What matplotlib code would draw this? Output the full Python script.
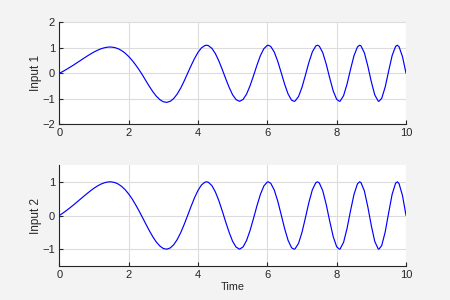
import matplotlib
matplotlib.use("Agg")
import matplotlib.pyplot as plt

# ------------------------------------
# DATA
# ------------------------------------
time = [
    0.0, 0.1, 0.2, 0.3, 0.4, 0.5, 0.6, 0.7, 0.8, 0.9,
    1.0, 1.1, 1.2, 1.3, 1.4, 1.46, 1.5, 1.6, 1.7, 1.8, 1.9,
    2.0, 2.1, 2.2, 2.3, 2.4, 2.5, 2.6, 2.7, 2.8, 2.9,
    3.0, 3.1, 3.2, 3.3, 3.4, 3.5, 3.6, 3.7, 3.8, 3.9,
    4.0, 4.1, 4.2, 4.25, 4.3, 4.4, 4.5, 4.6, 4.7, 4.8, 4.9,
    5.0, 5.1, 5.2, 5.3, 5.4, 5.5, 5.6, 5.7, 5.8, 5.9,
    6.0, 6.03, 6.1, 6.2, 6.3, 6.4, 6.5, 6.6, 6.7, 6.77, 6.8, 6.9,
    7.0, 7.1, 7.2, 7.3, 7.4, 7.45, 7.5, 7.6, 7.7, 7.8, 7.9,
    8.0, 8.08, 8.1, 8.2, 8.3, 8.4, 8.5, 8.6, 8.66, 8.7, 8.8, 8.9,
    9.0, 9.1, 9.2, 9.22, 9.3, 9.4, 9.5, 9.6, 9.7, 9.75, 9.8, 9.9,
    10.0,
]

input_1 = [
    0.0, 0.071, 0.148, 0.230, 0.315, 0.404, 0.493, 0.584, 0.672, 0.756,
    0.834, 0.903, 0.960, 1.001, 1.026, 1.030, 1.029, 1.008, 0.962, 0.889, 0.788,
    0.660, 0.508, 0.332, 0.140, -0.070, -0.298, -0.520, -0.725, -0.901, -1.033,
    -1.117, -1.140, -1.098, -0.990, -0.815, -0.585, -0.308, -0.003, 0.296, 0.579,
    0.820, 0.997, 1.089, 1.100, 1.086, 0.979, 0.776, 0.491, 0.150, -0.213, -0.556,
    -0.846, -1.034, -1.100, -1.027, -0.820, -0.497, -0.102, 0.314, 0.689, 0.965,
    1.095, 1.100, 1.051, 0.834, 0.474, 0.026, -0.430, -0.815, -1.054, -1.100, -1.089, -0.912,
    -0.550, -0.070, 0.430, 0.843, 1.074, 1.100, 1.063, 0.806, 0.355, -0.186, -0.688,
    -1.020, -1.100, -1.091, -0.876, -0.421, 0.153, 0.690, 1.034, 1.100, 1.078, 0.802, 0.278,
    -0.334, -0.850, -1.093, -1.100, -0.981, -0.539, 0.089, 0.692, 1.056, 1.100, 1.042, 0.648,
    0.009,
]

input_2 = [
    0.0, 0.069, 0.144, 0.223, 0.306, 0.392, 0.479, 0.567, 0.652, 0.734,
    0.810, 0.877, 0.932, 0.972, 0.996, 1.000, 0.999, 0.979, 0.934, 0.863, 0.765,
    0.641, 0.493, 0.322, 0.136, -0.061, -0.261, -0.456, -0.636, -0.790, -0.906,
    -0.980, -1.000, -0.963, -0.868, -0.715, -0.513, -0.270, -0.003, 0.269, 0.526,
    0.745, 0.906, 0.990, 1.000, 0.987, 0.890, 0.705, 0.446, 0.136, -0.194, -0.505,
    -0.769, -0.940, -1.000, -0.934, -0.745, -0.452, -0.093, 0.285, 0.626, 0.877,
    0.995, 1.000, 0.955, 0.758, 0.431, 0.024, -0.391, -0.741, -0.958, -1.000, -0.990, -0.829,
    -0.500, -0.064, 0.391, 0.766, 0.976, 1.000, 0.966, 0.733, 0.323, -0.169, -0.625,
    -0.927, -1.000, -0.992, -0.796, -0.383, 0.139, 0.627, 0.940, 1.000, 0.980, 0.729, 0.253,
    -0.304, -0.773, -0.994, -1.000, -0.892, -0.490, 0.081, 0.629, 0.960, 1.000, 0.947, 0.589,
    0.008,
]

x_ticks = [0, 2, 4, 6, 8, 10]
y_ticks_1 = [-2, -1, 0, 1, 2]
y_ticks_2 = [-1, 0, 1]

# ------------------------------------
# VISUALIZATION
# ------------------------------------
plt.rcParams["font.family"] = ["Liberation Sans", "DejaVu Sans"]
plt.rcParams["font.size"] = 8

fig = plt.figure(figsize=(4.5, 3), dpi=100, facecolor="#f3f3f3")

ax1 = fig.add_axes([0.1318, 0.5857, 0.7704, 0.34])
ax2 = fig.add_axes([0.1318, 0.1133, 0.7704, 0.3367])

panels = [
    (ax1, input_1, "Input 1", (-2, 2), y_ticks_1),
    (ax2, input_2, "Input 2", (-1.5, 1.5), y_ticks_2),
]

for ax, values, label, ylim, yticks in panels:
    ax.plot(time, values, color="#0000ff", linewidth=0.85)
    ax.set_xlim(0, 10)
    ax.set_ylim(*ylim)
    ax.set_xticks(x_ticks)
    ax.set_yticks(yticks)
    ax.set_ylabel(label, color="#262626", fontsize=8.5, labelpad=0.5)
    ax.grid(True, color="#dcdcdc", linewidth=0.8)
    ax.set_axisbelow(True)
    ax.spines["top"].set_visible(False)
    ax.spines["right"].set_visible(False)
    ax.spines["left"].set_color("#262626")
    ax.spines["bottom"].set_color("#262626")
    ax.tick_params(direction="in", length=3, colors="#262626",
                   labelcolor="#262626", labelsize=8, pad=3)

ax2.set_xlabel("Time", color="#262626", fontsize=7.8, labelpad=1)

fig.savefig("out.png", dpi=100, facecolor=fig.get_facecolor())
